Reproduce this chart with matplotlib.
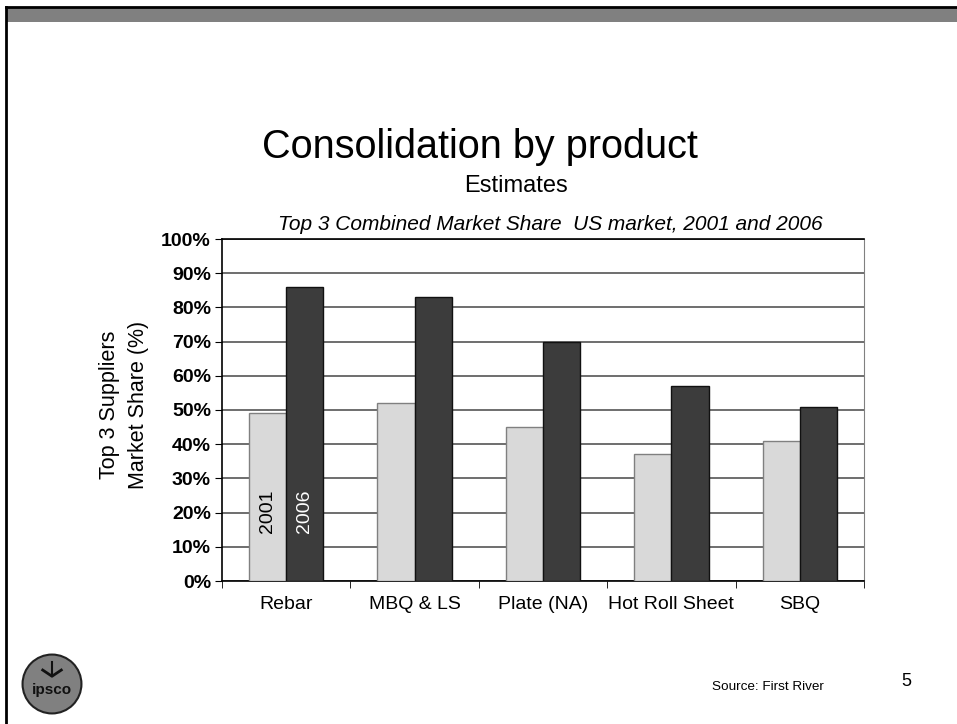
import matplotlib
matplotlib.use('Agg')
import matplotlib.pyplot as plt
from matplotlib.patches import Rectangle, Circle
import numpy as np

plt.rcParams['font.family'] = ['Liberation Sans', 'DejaVu Sans']

products = ['Rebar', 'MBQ & LS', 'Plate (NA)', 'Hot Roll Sheet', 'SBQ']
share_2001 = [49, 52, 45, 37, 41]
share_2006 = [86, 83, 70, 57, 51]
yticks = [0, 10, 20, 30, 40, 50, 60, 70, 80, 90, 100]

W, H = 957, 724
fig = plt.figure(figsize=(W / 100, H / 100), dpi=100)

# slide frame: black line on top and left, gray band
fig.patches.append(Rectangle((7 / W, 1 - 22 / H), 1, 14 / H, transform=fig.transFigure,
                             facecolor='#808080', edgecolor='none'))
fig.add_artist(plt.Line2D([6 / W, 1], [1 - 7 / H, 1 - 7 / H], color='black', lw=2,
                          transform=fig.transFigure))
fig.add_artist(plt.Line2D([6 / W, 6 / W], [0, 1 - 7 / H], color='black', lw=2,
                          transform=fig.transFigure))

# titles
fig.text(480 / W, 1 - 147 / H, 'Consolidation by product', ha='center', va='center', fontsize=28.5)
fig.text(516 / W, 1 - 186 / H, 'Estimates', ha='center', va='center', fontsize=17)
fig.text(550 / W, 1 - 225 / H, 'Top 3 Combined Market Share  US market, 2001 and 2006',
         ha='center', va='center', fontsize=15, style='italic')

# chart
ax = fig.add_axes([222 / W, 1 - 581 / H, 642 / W, 342 / H])
x = np.arange(len(products))
bw = 0.29
ax.bar(x - bw / 2, share_2001, bw, color='#d9d9d9', edgecolor='#808080', lw=1, zorder=3)
ax.bar(x + bw / 2, share_2006, bw, color='#3c3c3c', edgecolor='#111111', lw=1, zorder=3)

ax.set_xlim(-0.5, len(products) - 0.5)
ax.set_ylim(0, 100)
ax.set_yticks(yticks)
ax.set_yticklabels(['%d%%' % v for v in yticks], fontsize=14, fontweight='bold')
ax.yaxis.grid(True, color='#555555', lw=1.2, zorder=0)
ax.set_axisbelow(True)

ax.set_xticks(x)
ax.set_xticklabels(products, fontsize=14)
ax.tick_params(axis='x', length=0, pad=11)
ax.set_xticks(np.arange(len(products) + 1) - 0.5, minor=True)
ax.tick_params(axis='x', which='minor', length=5, direction='out', color='black')
ax.tick_params(axis='y', length=5, direction='out', color='black', pad=3)

for s in ['left', 'bottom', 'top']:
    ax.spines[s].set_color('black')
    ax.spines[s].set_linewidth(1.2)
ax.spines['right'].set_color('#808080')

# year labels inside first group
ax.text(x[0] - bw / 2, 20.5, '2001', rotation=90, ha='center', va='center', fontsize=14, zorder=4)
ax.text(x[0] + bw / 2, 20.5, '2006', rotation=90, ha='center', va='center', fontsize=14,
        color='white', zorder=4)

fig.text(124 / W, 1 - 405 / H, 'Top 3 Suppliers\nMarket Share (%)', rotation=90,
         ha='center', va='center', fontsize=15.5, linespacing=1.55)

# footer
fig.text(768 / W, 1 - 687 / H, 'Source: First River', ha='center', va='center', fontsize=9.7)
fig.text(906 / W, 1 - 682 / H, '5', ha='center', va='center', fontsize=13)

# logo
lax = fig.add_axes([21 / W, 1 - 715 / H, 62 / W, 62 / H])
lax.set_xlim(-1, 1)
lax.set_ylim(-1, 1)
lax.set_aspect('equal')
lax.axis('off')
lax.add_patch(Circle((0, 0), 0.95, facecolor='#808080', edgecolor='#222222', lw=1.5))
lax.text(0, -0.2, 'ipsco', ha='center', va='center', fontsize=11, fontweight='bold',
         color='#111111')
lax.plot([-0.3, 0.0, 0.3], [0.45, 0.25, 0.45], color='#111111', lw=2)
lax.plot([0.0, 0.0], [0.25, 0.7], color='#111111', lw=1.5)

fig.savefig('out.png', dpi=100)
